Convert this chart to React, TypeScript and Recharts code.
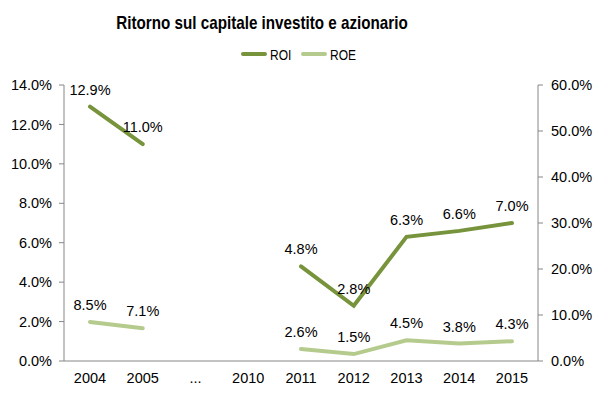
import React from "react";
import { LineChart, Line, XAxis, YAxis, LabelList } from "recharts";

const YEARS = ["2004", "2005", "...", "2010", "2011", "2012", "2013", "2014", "2015"];
const ROI = [12.9, 11.0, null, null, 4.8, 2.8, 6.3, 6.6, 7.0];
const ROE = [8.5, 7.1, null, null, 2.6, 1.5, 4.5, 3.8, 4.3];
const LEFT_TICKS = [0, 2, 4, 6, 8, 10, 12, 14];
const RIGHT_TICKS = [0, 10, 20, 30, 40, 50, 60];

const ROI_COLOR = "#77933C";
const ROE_COLOR = "#B5CB8E";
const AXIS_COLOR = "#868686";

const data = YEARS.map((year, i) => ({ year, roi: ROI[i], roe: ROE[i] }));

const pct = (v: number) => `${Number(v).toFixed(1)}%`;
const tickStyle = { fontFamily: "Liberation Sans, Arial, sans-serif", fontSize: 14.5, fill: "#000" };
const font = "'Liberation Sans', Arial, sans-serif";

function LegendItem({ color, label, x }: { color: string; label: string; x: number }) {
  return (
    <div style={{ position: "absolute", left: x, top: 0, display: "flex", alignItems: "center", height: 18 }}>
      <span style={{ display: "inline-block", width: 26, height: 4, borderRadius: 2, background: color, marginRight: 3 }} />
      <span style={{ display: "inline-block", transform: "scaleX(0.8)", transformOrigin: "left center" }}>{label}</span>
    </div>
  );
}

export default function App() {
  return (
    <div style={{ position: "absolute", left: 0, top: 0, width: 602, height: 397, background: "#fff" }}>
      <div
        style={{
          position: "absolute",
          left: 0,
          width: 524,
          top: 12,
          textAlign: "center",
          fontFamily: font,
          fontWeight: "bold",
          fontSize: 19,
          color: "#000",
          transform: "scaleX(0.8)",
          transformOrigin: "262px center",
        }}
      >
        Ritorno sul capitale investito e azionario
      </div>
      <div style={{ position: "absolute", left: 0, top: 45, width: 602, fontFamily: font, fontSize: 15, color: "#000" }}>
        <LegendItem color={ROI_COLOR} label="ROI" x={241} />
        <LegendItem color={ROE_COLOR} label="ROE" x={301} />
      </div>
      <LineChart width={602} height={397} data={data} margin={{ top: 85, right: 0, bottom: 0, left: 0 }}>
        <XAxis
          dataKey="year"
          height={36}
          tickLine={false}
          tickSize={0}
          tickMargin={12}
          stroke={AXIS_COLOR}
          tick={tickStyle}
          interval={0}
          padding={{ left: 26, right: 26 }}
        />
        <YAxis
          yAxisId="left"
          width={64}
          domain={[0, 14]}
          ticks={LEFT_TICKS}
          tickFormatter={pct}
          stroke={AXIS_COLOR}
          tickSize={5}
          tickMargin={7}
          tick={tickStyle}
        />
        <YAxis
          yAxisId="right"
          orientation="right"
          width={64}
          domain={[0, 60]}
          ticks={RIGHT_TICKS}
          tickFormatter={pct}
          stroke={AXIS_COLOR}
          tickSize={5}
          tickMargin={8}
          tick={tickStyle}
        />
        <Line
          yAxisId="left"
          type="linear"
          dataKey="roi"
          stroke={ROI_COLOR}
          strokeWidth={4}
          strokeLinecap="round"
          dot={false}
          isAnimationActive={false}
        >
          <LabelList dataKey="roi" position="top" offset={12} formatter={pct} style={tickStyle} />
        </Line>
        <Line
          yAxisId="right"
          type="linear"
          dataKey="roe"
          stroke={ROE_COLOR}
          strokeWidth={4}
          strokeLinecap="round"
          dot={false}
          isAnimationActive={false}
        >
          <LabelList dataKey="roe" position="top" offset={12} formatter={pct} style={tickStyle} />
        </Line>
      </LineChart>
    </div>
  );
}
